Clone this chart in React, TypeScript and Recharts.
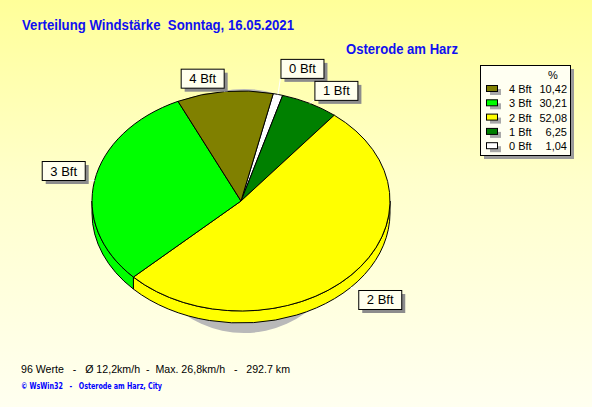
import React from 'react';
import { PieChart, Pie, Cell } from 'recharts';

const categories = ['0 Bft', '1 Bft', '2 Bft', '3 Bft', '4 Bft'];
const shares = [1.04, 6.25, 52.08, 30.21, 10.42];
const colors = ['#FFFFFF', '#008000', '#FFFF00', '#00FF00', '#808000'];
const titleText = 'Verteilung Windstärke  Sonntag, 16.05.2021';
const subtitleText = 'Osterode am Harz';
const footerText = '96 Werte   -   Ø 12,2km/h  -  Max. 26,8km/h   -   292.7 km';
const creditText = '© WsWin32   -   Osterode am Harz, City';

const rows = categories.map((name, i) => ({ name, value: shares[i] }));

const CX = 241;
const CY = 201;
const RX = 149;
const RY_RATIO = 110 / 149;
const DEPTH = 12;
const START = 77.5;
const END = START - 360;
const RAD = Math.PI / 180;
const BOX_W = 43;
const BOX_H = 19;

type Box = { x: number; y: number; ex: number; ey: number; cx: number; cy: number };

function layoutLabels(): Box[] {
  const total = shares.reduce((a, b) => a + b, 0);
  const ry = RX * RY_RATIO;
  let cum = 0;
  const boxes: Box[] = [];
  shares.forEach((v) => {
    const mid = START - ((cum + v / 2) / total) * 360;
    cum += v;
    const ca = Math.cos(mid * RAD);
    const sa = Math.sin(mid * RAD);
    const drop = sa < 0 ? DEPTH : 0;
    const ex = CX + RX * ca;
    const ey = CY - ry * sa + drop;
    const ax = CX + (RX + 10) * ca;
    const ay = CY - (ry + 4) * sa + drop;
    const x = ca >= 0 ? ax : ax - BOX_W;
    const y = sa >= 0 ? ay - BOX_H : ay;
    boxes.push({ x, y, ex, ey, cx: ax, cy: ay });
  });
  const placed: number[] = [];
  for (let i = boxes.length - 1; i >= 0; i--) {
    const b = boxes[i];
    let moved = true;
    while (moved) {
      moved = false;
      for (const j of placed) {
        const o = boxes[j];
        const overlapX = b.x < o.x + BOX_W && b.x + BOX_W > o.x;
        const overlapY = b.y < o.y + BOX_H + 3 && b.y + BOX_H + 3 > o.y;
        if (overlapX && overlapY) {
          b.y = o.y - BOX_H - 3;
          moved = true;
        }
      }
    }
    placed.push(i);
  }
  return boxes;
}

const labelBoxes = layoutLabels();

function renderSector(props: any) {
  const { cx, cy, outerRadius, startAngle, endAngle, fill, payload, name } = props;
  const rx = outerRadius;
  const ry = outerRadius * RY_RATIO;
  const hi = Math.max(startAngle, endAngle);
  const lo = Math.min(startAngle, endAngle);
  const p = (a: number, dy = 0) => `${cx + rx * Math.cos(a * RAD)},${cy - ry * Math.sin(a * RAD) + dy}`;
  const large = hi - lo > 180 ? 1 : 0;
  const top = `M${cx},${cy} L${p(hi)} A${rx},${ry} 0 ${large} 1 ${p(lo)} Z`;
  const walls: string[] = [];
  for (let k = -2; k <= 1; k++) {
    const l = Math.max(lo, 180 + 360 * k);
    const h = Math.min(hi, 360 + 360 * k);
    if (h - l > 0.01) {
      walls.push(`M${p(h)} A${rx},${ry} 0 0 1 ${p(l)} L${p(l, DEPTH)} A${rx},${ry} 0 0 0 ${p(h, DEPTH)} Z`);
    }
  }
  const nm = (payload && payload.name) || name;
  const isFirst = nm === categories[0];
  return (
    <g>
      {isFirst && (
        <ellipse cx={cx + 3} cy={cy + 10} rx={rx * 0.75} ry={ry * 1.11} fill="#b9b9b9" />
      )}
      {walls.map((d, i) => (
        <path key={i} d={d} fill={fill} stroke="#000" strokeWidth={1} />
      ))}
      <path d={top} fill={fill} stroke="#000" strokeWidth={1} />
    </g>
  );
}

function renderLabel(props: any) {
  const idx = props.index;
  const b = labelBoxes[idx];
  if (!b) return null;
  const cornerX = b.ex >= CX ? b.x : b.x + BOX_W;
  const cornerY = b.ey <= CY ? b.y + BOX_H : b.y;
  return (
    <g key={`lbl-${idx}`}>
      <line x1={cornerX} y1={cornerY} x2={b.ex} y2={b.ey} stroke="#FFFFFF" strokeWidth={1} />
      <rect x={b.x + 4} y={b.y + 4} width={BOX_W} height={BOX_H} fill="#8c8c8c" />
      <rect x={b.x + 0.5} y={b.y + 0.5} width={BOX_W} height={BOX_H} fill="#FFFFEE" stroke="#000" strokeWidth={1} />
      <text
        x={b.x + BOX_W / 2 + 0.5}
        y={b.y + 14.5}
        textAnchor="middle"
        fontFamily="'Liberation Sans', Arial, sans-serif"
        fontSize={13}
        fill="#000"
      >
        {categories[idx]}
      </text>
    </g>
  );
}

const fmt = (v: number) => v.toFixed(2).replace('.', ',');

function LegendBox() {
  const order = categories.map((_, i) => i).reverse();
  const font = "'Liberation Sans', Arial, sans-serif";
  return (
    <g>
      <rect x={484} y={69} width={90} height={90} fill="#9a9a9a" />
      <rect x={480.5} y={65.5} width={90} height={90} fill="#FFFFF2" stroke="#000" strokeWidth={1} />
      <text x={553} y={79} textAnchor="middle" fontFamily={font} fontSize={11} fill="#000">%</text>
      {order.map((ci, r) => {
        const base = 93 + r * 14.3;
        return (
          <g key={ci}>
            <rect x={490} y={base - 4} width={11} height={6} fill="#a8a8a8" />
            <rect x={486.5} y={base - 7.5} width={11} height={6} fill={colors[ci]} stroke="#000" strokeWidth={1} />
            <text x={509} y={base} fontFamily={font} fontSize={11} fill="#000">{categories[ci]}</text>
            <text x={567} y={base} textAnchor="end" fontFamily={font} fontSize={11} fill="#000">{fmt(shares[ci])}</text>
          </g>
        );
      })}
    </g>
  );
}

export default function App() {
  return (
    <div
      style={{
        position: 'absolute',
        left: 0,
        top: 0,
        width: 592,
        height: 407,
        background: 'linear-gradient(to bottom, #FFFF99 0%, #FFFFCC 45%, #FFFFF0 100%)',
        overflow: 'hidden',
      }}
    >
      <div style={{ position: 'absolute', left: 0, top: 0 }}>
        <PieChart width={592} height={407} margin={{ top: 0, right: 0, bottom: 0, left: 0 }}>
          <Pie
            data={rows}
            dataKey="value"
            nameKey="name"
            cx={CX}
            cy={CY}
            innerRadius={0}
            outerRadius={RX}
            startAngle={START}
            endAngle={END}
            paddingAngle={0}
            stroke="#000"
            isAnimationActive={false}
            label={renderLabel}
            labelLine={false}
            shape={renderSector}
            activeShape={renderSector}
            inactiveShape={renderSector}
          >
            {rows.map((r, i) => (
              <Cell key={r.name} fill={colors[i]} />
            ))}
          </Pie>
        </PieChart>
      </div>
      <svg
        width={592}
        height={407}
        style={{ position: 'absolute', left: 0, top: 0, pointerEvents: 'none' }}
      >
        <text
          x={22}
          y={30}
          fontFamily="'Liberation Sans', Arial, sans-serif"
          fontWeight="bold"
          fontSize={14}
          fill="#1010F0"
          textLength={272}
          lengthAdjust="spacingAndGlyphs"
          style={{ whiteSpace: 'pre' }}
        >
          {titleText}
        </text>
        <text
          x={346}
          y={54}
          fontFamily="'Liberation Sans', Arial, sans-serif"
          fontWeight="bold"
          fontSize={14}
          fill="#1010F0"
          textLength={112}
          lengthAdjust="spacingAndGlyphs"
        >
          {subtitleText}
        </text>
        <LegendBox />
        <text
          x={21}
          y={373}
          fontFamily="'Liberation Sans', Arial, sans-serif"
          fontSize={11}
          fill="#000"
          textLength={269}
          lengthAdjust="spacingAndGlyphs"
          style={{ whiteSpace: 'pre' }}
        >
          {footerText}
        </text>
        <text
          x={21}
          y={389}
          fontFamily="'DejaVu Sans', Verdana, sans-serif"
          fontWeight="bold"
          fontSize={8}
          fill="#0000FF"
          textLength={141}
          lengthAdjust="spacingAndGlyphs"
          style={{ whiteSpace: 'pre' }}
        >
          {creditText}
        </text>
      </svg>
    </div>
  );
}
